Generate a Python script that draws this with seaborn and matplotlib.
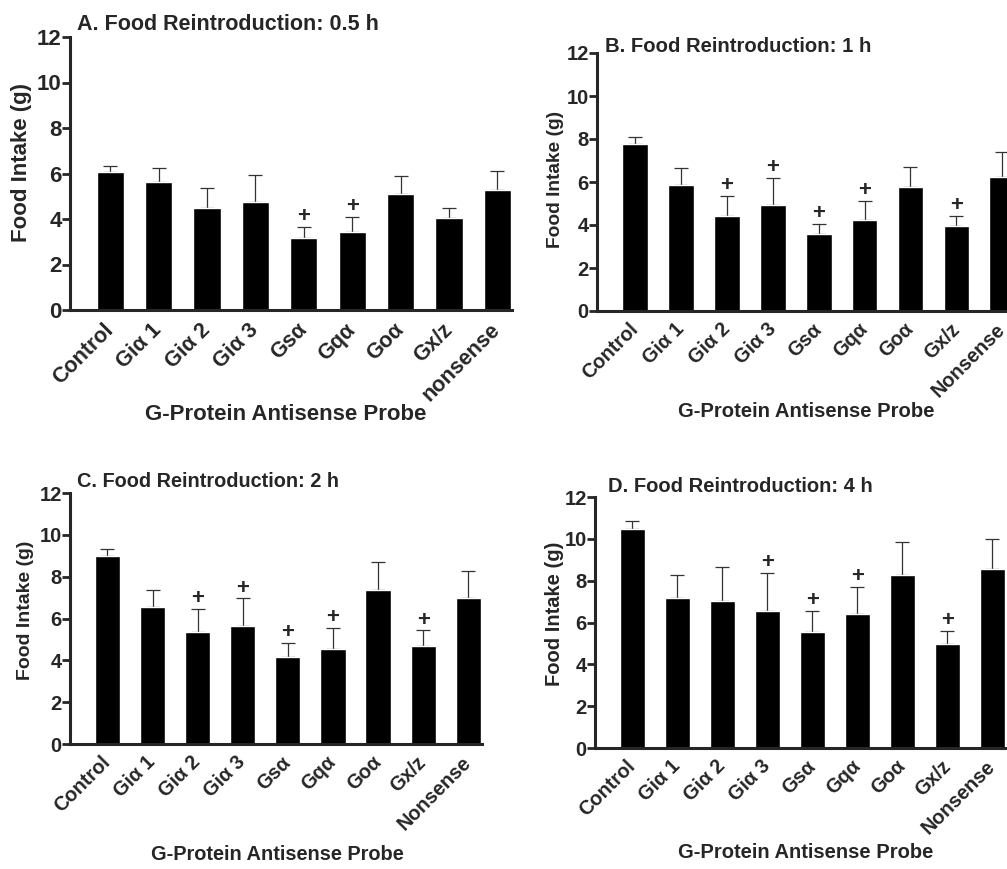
import numpy as np
import pandas as pd
import seaborn as sns
import matplotlib.pyplot as plt

probes = ["Control", "Giα 1", "Giα 2", "Giα 3", "Gsα", "Gqα", "Goα", "Gx/z", "Nonsense"]
probes_a = ["Control", "Giα 1", "Giα 2", "Giα 3", "Gsα", "Gqα", "Goα", "Gx/z", "nonsense"]

# mean food intake (g) and SEM
mean_a = [6.07, 5.61, 4.47, 4.76, 3.15, 3.41, 5.12, 4.03, 5.27]
sem_a = [0.27, 0.61, 0.90, 1.17, 0.51, 0.69, 0.77, 0.44, 0.83]
sig_a = [0, 0, 0, 0, 1, 1, 0, 0, 0]

mean_b = [7.79, 5.87, 4.41, 4.94, 3.58, 4.24, 5.76, 3.97, 6.23]
sem_b = [0.28, 0.78, 0.93, 1.26, 0.47, 0.87, 0.94, 0.47, 1.17]
sig_b = [0, 0, 1, 1, 1, 1, 0, 1, 0]

mean_c = [8.98, 6.53, 5.37, 5.64, 4.14, 4.54, 7.36, 4.70, 6.96]
sem_c = [0.34, 0.83, 1.08, 1.32, 0.67, 1.02, 1.35, 0.73, 1.32]
sig_c = [0, 0, 1, 1, 1, 1, 0, 1, 0]

mean_d = [10.46, 7.15, 7.04, 6.55, 5.53, 6.41, 8.25, 4.96, 8.57]
sem_d = [0.38, 1.12, 1.59, 1.80, 1.00, 1.27, 1.61, 0.65, 1.40]
sig_d = [0, 0, 0, 1, 1, 1, 0, 1, 0]

titles = ["A. Food Reintroduction: 0.5 h", "B. Food Reintroduction: 1 h",
          "C. Food Reintroduction: 2 h", "D. Food Reintroduction: 4 h"]

sns.set_style("ticks")
plt.rcParams['font.family'] = ['Liberation Sans', 'DejaVu Sans']
plt.rcParams['font.weight'] = 'bold'

W, H = 1007, 869
fig = plt.figure(figsize=(W / 100, H / 100), dpi=100)

# pixel layout: y-axis x, top (y=12), bottom (y=0), spacing between bars
boxes = [(70, 37, 310, 48.4), (597, 53, 311, 45.9),
         (70, 493, 744, 45.1), (595, 497, 748, 45.0)]
XL = (-0.83, 8.30)
# font sizes: x ticks, y ticks, title, ylabel, xlabel
sizes = [(15.5, 16, 15.5, 16, 16), (14.3, 14.5, 14.6, 13.8, 14.6),
         (14.3, 14.5, 14.3, 14, 14.4), (14.3, 14.5, 14.5, 14.5, 14.5)]
title_pos = [(77, 30), (605, 52), (77, 487), (608, 492)]
ylab_pos = [(22, 162), (555, 179), (25, 610), (555, 614)]
xlab_pos = [(286, 414), (806, 411), (277, 855), (806, 853)]

panels = [(probes_a, mean_a, sem_a, sig_a), (probes, mean_b, sem_b, sig_b),
          (probes, mean_c, sem_c, sig_c), (probes, mean_d, sem_d, sig_d)]

for i, (labels, means, sems, sig) in enumerate(panels):
    left, top, bottom, step = boxes[i]
    fx, fy, ft, fyl, fxl = sizes[i]
    right = left + (XL[1] - XL[0]) * step
    ax = fig.add_axes([left / W, 1 - bottom / H, (right - left) / W, (bottom - top) / H])

    df = pd.DataFrame({"probe": labels, "intake": means})
    sns.barplot(data=df, x="probe", y="intake", color="black", saturation=1,
                width=0.56, errorbar=None, ax=ax, zorder=2)
    x = np.arange(len(labels))
    ax.errorbar(x, means, yerr=[np.zeros(len(sems)), sems], fmt="none",
                ecolor="#333333", elinewidth=0.9, capsize=5, capthick=0.9, zorder=1)
    for xi, m, s, flag in zip(x, means, sems, sig):
        if flag:
            ax.annotate("+", (xi, m + s), xytext=(0, 7.5), textcoords="offset points",
                        ha="center", va="center", fontsize=16, fontweight="bold")

    ax.set_xlim(XL)
    ax.set_ylim(0, 12)
    ax.set_yticks(range(0, 13, 2))
    ax.set_xlabel("")
    ax.set_ylabel("")
    sns.despine(ax=ax)
    for sp in ["left", "bottom"]:
        ax.spines[sp].set_linewidth(2.2)
    ax.tick_params(axis="y", length=5.5, width=2, pad=0.5, labelsize=fy)
    ax.tick_params(axis="x", length=0, pad=12 * fx / 15.5, labelsize=fx)
    ax.set_xticks(x)
    ax.set_xticklabels(labels, rotation=45, ha="right", va="center", rotation_mode="anchor",
                       fontweight="bold")
    for t in ax.get_yticklabels():
        t.set_fontweight("bold")

    tx, ty = title_pos[i]
    fig.text(tx / W, 1 - ty / H, titles[i], ha="left", va="baseline",
             fontsize=ft, fontweight="bold")
    yx, yy = ylab_pos[i]
    fig.text(yx / W, 1 - yy / H, "Food Intake (g)", rotation=90, ha="center", va="center",
             fontsize=fyl, fontweight="bold")
    xx, xy = xlab_pos[i]
    fig.text(xx / W, 1 - xy / H, "G-Protein Antisense Probe", ha="center", va="center",
             fontsize=fxl, fontweight="bold")

fig.savefig("out.png", dpi=100)
